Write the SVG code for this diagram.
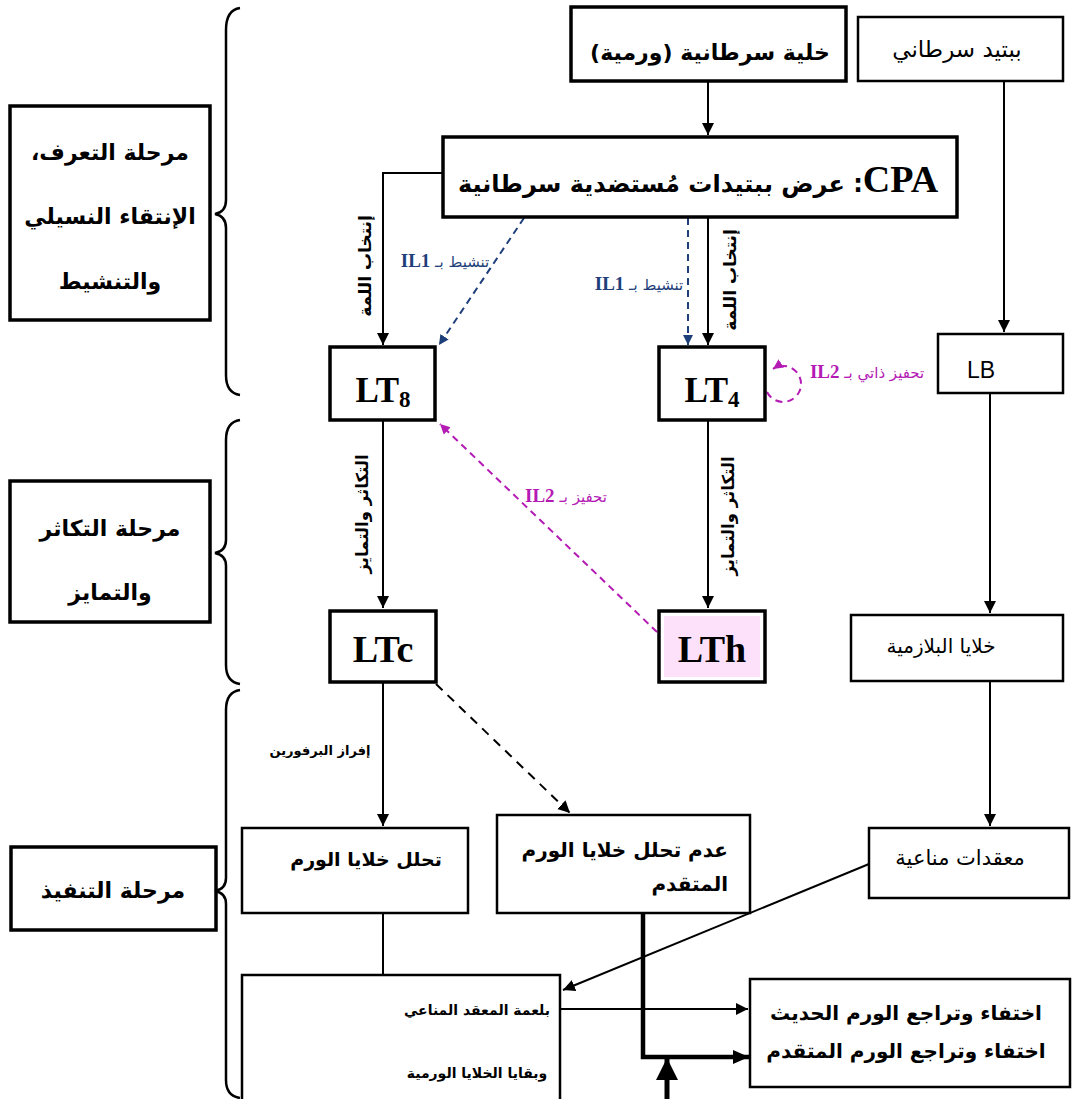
<svg xmlns="http://www.w3.org/2000/svg" width="1076" height="1099" viewBox="0 0 1076 1099">
<style>
.ar{font-family:"DejaVu Sans",sans-serif;}
.lt{font-family:"Liberation Serif",serif;font-weight:bold;}
.thick{fill:#fff;stroke:#000;stroke-width:3.5;}
.thin{fill:#fff;stroke:#000;stroke-width:2.5;}
.conn{fill:none;stroke:#000;stroke-width:2;}
.brace{fill:none;stroke:#000;stroke-width:2.5;}
.blue{fill:none;stroke:#1f3f7a;stroke-width:2;stroke-dasharray:7 5;}
.mag{fill:none;stroke:#b41ab4;stroke-width:2;stroke-dasharray:7 5;}
</style>
<defs>
<marker id="ah" markerUnits="userSpaceOnUse" markerWidth="14" markerHeight="14" refX="12" refY="7" orient="auto"><path d="M0,1 L12,7 L0,13 z" fill="#000"/></marker>
<marker id="ahb" markerUnits="userSpaceOnUse" markerWidth="12" markerHeight="12" refX="10" refY="6" orient="auto"><path d="M0,1 L10,6 L0,11 z" fill="#1f3f7a"/></marker>
<marker id="ahm" markerUnits="userSpaceOnUse" markerWidth="12" markerHeight="12" refX="10" refY="6" orient="auto"><path d="M0,1 L10,6 L0,11 z" fill="#b41ab4"/></marker>
<marker id="ahk" markerUnits="userSpaceOnUse" markerWidth="20" markerHeight="20" refX="16" refY="10" orient="auto"><path d="M0,3 L16,10 L0,17 z" fill="#000"/></marker>
<marker id="ahbig" markerUnits="userSpaceOnUse" markerWidth="26" markerHeight="26" refX="22" refY="13" orient="auto"><path d="M0,2 L22,13 L0,24 z" fill="#000"/></marker>
</defs>
<rect width="1076" height="1099" fill="#fff"/>

<!-- phase boxes and braces -->
<g id="phase1">
<rect class="thick" x="10" y="106" width="200" height="214"/>
<text class="ar" font-size="22" font-weight="bold" text-anchor="middle" direction="rtl"><tspan x="110" y="160">مرحلة التعرف،</tspan><tspan x="110" y="224">الإنتقاء النسيلي</tspan><tspan x="110" y="289">والتنشيط</tspan></text>
<path class="brace" d="M240 8 Q226 10 226 30 L226 200 Q226 212 215 214 Q226 216 226 228 L226 375 Q226 393 240 395"/>
</g>
<g id="phase2">
<rect class="thick" x="10" y="481" width="200" height="141"/>
<text class="ar" font-size="22" font-weight="bold" text-anchor="middle" direction="rtl"><tspan x="110" y="536">مرحلة التكاثر</tspan><tspan x="110" y="600">والتمايز</tspan></text>
<path class="brace" d="M240 420 Q226 422 226 440 L226 540 Q226 551 215 553 Q226 555 226 566 L226 665 Q226 682 240 684"/>
</g>
<g id="phase3">
<rect class="thick" x="11" y="847" width="205" height="83"/>
<text class="ar" font-size="22" font-weight="bold" text-anchor="middle" direction="rtl" x="113" y="898">مرحلة التنفيذ</text>
<path class="brace" d="M240 690 Q226 692 226 710 L226 878 Q226 889 215 891 Q226 893 226 904 L226 1080 Q226 1096 240 1098"/>
</g>

<!-- connectors -->
<g id="connectors">
<path class="conn" d="M708 82 V135" marker-end="url(#ah)"/>
<path class="conn" d="M1004 82 V332" marker-end="url(#ah)"/>
<path class="conn" d="M443 173 H383 V345" marker-end="url(#ah)"/>
<path class="conn" d="M708 218 V345" marker-end="url(#ah)"/>
<path class="blue" d="M688 218 V345" marker-end="url(#ahb)"/>
<path class="blue" d="M524 218 L439 345" marker-end="url(#ahb)"/>
<path class="conn" d="M383 421 V608" marker-end="url(#ah)"/>
<path class="conn" d="M708 421 V608" marker-end="url(#ah)"/>
<path class="mag" d="M657 632 L440 424" marker-end="url(#ahm)"/>
<path class="mag" d="M767 392 A18 18 0 1 0 773 369" marker-end="url(#ahm)"/>
<path class="conn" d="M990 394 V613" marker-end="url(#ah)"/>
<path class="conn" d="M990 682 V826" marker-end="url(#ah)"/>
<path class="conn" d="M383 683 V826" marker-end="url(#ah)"/>
<path class="conn" d="M436 684 L570 813" stroke-dasharray="9 7" marker-end="url(#ah)"/>
<path class="conn" d="M383 914 V975"/>
<path class="conn" d="M869 864 L563 990" marker-end="url(#ah)"/>
<path class="conn" d="M560 1009 H748" marker-end="url(#ah)"/>
<path fill="none" stroke="#000" stroke-width="4.5" d="M643 914 V1057 H749" marker-end="url(#ahk)"/>
<path fill="none" stroke="#000" stroke-width="5" d="M667 1105 V1058" marker-end="url(#ahbig)"/>
<!-- connector labels -->
<text class="ar" font-size="17" font-weight="bold" text-anchor="middle" direction="rtl" transform="translate(371,266) rotate(-90)">إنتخاب اللمة</text>
<text class="ar" font-size="17" font-weight="bold" text-anchor="middle" direction="rtl" transform="translate(736,280) rotate(-90)">إنتخاب اللمة</text>
<text class="ar" font-size="16.5" font-weight="bold" text-anchor="middle" direction="rtl" transform="translate(368,514) rotate(-90)">التكاثر والتمايز</text>
<text class="ar" font-size="16.5" font-weight="bold" text-anchor="middle" direction="rtl" transform="translate(734,516) rotate(-90)">التكاثر والتمايز</text>
<text class="ar" font-size="15" fill="#1f3f7a" text-anchor="middle" direction="rtl" x="445" y="267">تنشيط بـ <tspan class="lt" font-size="19">IL1</tspan></text>
<text class="ar" font-size="15" fill="#1f3f7a" text-anchor="middle" direction="rtl" x="639" y="290">تنشيط بـ <tspan class="lt" font-size="19">IL1</tspan></text>
<text class="ar" font-size="15" fill="#b41ab4" text-anchor="middle" direction="rtl" x="566" y="502">تحفيز بـ <tspan class="lt" font-size="19">IL2</tspan></text>
<text class="ar" font-size="15" fill="#b41ab4" text-anchor="middle" direction="rtl" x="867" y="378">تحفيز ذاتي بـ <tspan class="lt" font-size="19">IL2</tspan></text>
<text class="ar" font-size="13" font-weight="bold" text-anchor="middle" direction="rtl" x="320" y="755">إفراز البرفورين</text>
</g>

<!-- nodes -->
<g id="tumor-cell">
<rect class="thick" x="571" y="7" width="275" height="74"/>
<text class="ar" font-size="22" font-weight="bold" text-anchor="middle" direction="rtl" x="710" y="60">خلية سرطانية (ورمية)</text>
</g>
<g id="peptide">
<rect class="thin" x="858" y="17" width="205" height="64"/>
<text class="ar" font-size="23" text-anchor="middle" direction="rtl" x="957" y="57">ببتيد سرطاني</text>
</g>
<g id="cpa">
<rect class="thick" x="443" y="137" width="514" height="80"/>
<text class="ar" font-size="24" font-weight="bold" text-anchor="middle" direction="rtl" x="698" y="192"><tspan class="lt" font-size="38">CPA</tspan>: عرض ببتيدات مُستضدية سرطانية</text>
</g>
<g id="lt8">
<rect class="thick" x="330" y="347" width="105" height="73"/>
<text class="lt" font-size="35" text-anchor="middle" x="383" y="402">LT<tspan font-size="23" dy="5">8</tspan></text>
</g>
<g id="lt4">
<rect class="thick" x="659" y="347" width="106" height="73"/>
<text class="lt" font-size="35" text-anchor="middle" x="712" y="402">LT<tspan font-size="23" dy="5">4</tspan></text>
</g>
<g id="lb">
<rect class="thin" x="938" y="334" width="125" height="59"/>
<text font-family="Liberation Sans,sans-serif" font-size="23" x="967" y="378">LB</text>
</g>
<g id="ltc">
<rect class="thick" x="330" y="611" width="106" height="71"/>
<text class="lt" font-size="38" text-anchor="middle" x="383" y="662">LTc</text>
</g>
<g id="lth">
<rect class="thick" x="659" y="611" width="106" height="71"/>
<rect x="664" y="616" width="96" height="61" fill="#fde0fa"/>
<text class="lt" font-size="38" text-anchor="middle" x="712" y="662">LTh</text>
</g>
<g id="plasma">
<rect class="thin" x="851" y="615" width="212" height="66"/>
<text class="ar" font-size="20" text-anchor="middle" direction="rtl" x="941" y="653">خلايا البلازمية</text>
</g>
<g id="lysis">
<rect class="thin" x="242" y="828" width="226" height="85"/>
<text class="ar" font-size="19" font-weight="bold" text-anchor="middle" direction="rtl" x="366" y="866">تحلل خلايا الورم</text>
</g>
<g id="no-lysis">
<rect class="thin" x="497" y="815" width="253" height="98"/>
<text class="ar" font-size="20" font-weight="bold" text-anchor="start" direction="rtl"><tspan x="728" y="857">عدم تحلل خلايا الورم</tspan><tspan x="728" y="891">المتقدم</tspan></text>
</g>
<g id="complexes">
<rect class="thin" x="869" y="828" width="200" height="70"/>
<text class="ar" font-size="21" text-anchor="middle" direction="rtl" x="960" y="865">معقدات مناعية</text>
</g>
<g id="phagocytosis">
<rect class="thin" x="242" y="975" width="318" height="140"/>
<text class="ar" font-size="14" font-weight="bold" text-anchor="middle" direction="rtl"><tspan x="477" y="1015">بلعمة المعقد المناعي</tspan><tspan x="477" y="1078">وبقايا الخلايا الورمية</tspan></text>
</g>
<g id="regression">
<rect class="thin" x="750" y="979" width="320" height="108"/>
<text class="ar" font-size="20" font-weight="bold" text-anchor="middle" direction="rtl"><tspan x="906" y="1020">اختفاء وتراجع الورم الحديث</tspan><tspan x="906" y="1058">اختفاء وتراجع الورم المتقدم</tspan></text>
</g>
</svg>
